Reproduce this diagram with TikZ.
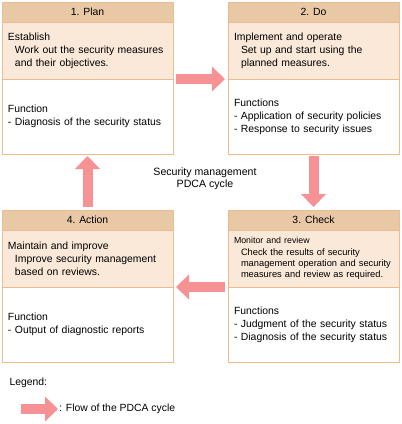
\documentclass[tikz,border=0pt]{standalone}
\usepackage{fontspec}
\setmainfont{Liberation Sans}
\usetikzlibrary{arrows.meta, positioning}
\definecolor{headfill}{RGB}{233,200,166}
\definecolor{descfill}{RGB}{250,232,216}
\definecolor{boxline}{RGB}{234,188,144}
\definecolor{flowpink}{RGB}{247,146,148}
\tikzset{
  head/.style={draw=boxline, fill=headfill, outer sep=0pt, inner sep=0pt, minimum width=171pt, minimum height=20pt},
  desc/.style={draw=boxline, fill=descfill, outer sep=0pt, inner xsep=6pt, inner ysep=0pt, minimum height=57pt, text width=159pt, align=left, font=\fontsize{10.4}{13}\selectfont},
  func/.style={draw=boxline, fill=white, outer sep=0pt, inner xsep=6pt, inner ysep=0pt, minimum height=75pt, text width=159pt, align=left, font=\fontsize{10.4}{13}\selectfont},
  flow/.style={line width=10pt, flowpink, -{Triangle[length=13pt, width=25pt, line width=0pt]}},
  note/.style={align=center, font=\fontsize{10.6}{12}\selectfont},
  every node/.style={font=\fontsize{10.4}{12}\selectfont}
}
\newcommand{\ind}{\hspace*{7pt}}

\begin{document}
\begin{tikzpicture}[x=1pt, y=-1pt]
    \useasboundingbox (0,0) rectangle (402,424);
    % the four stages
    \node[head] (plan) at (87.5,12) {1. Plan};
    \node[desc, below=0pt of plan] (plandesc) {Establish\\\ind Work out the security measures\\\ind and their objectives.};
    \node[func, below=0pt of plandesc] (planfunc) {Function\\- Diagnosis of the security status};

    \node[head] (do) at (313.5,12) {2. Do};
    \node[desc, below=0pt of do] (dodesc) {Implement and operate\\\ind Set up and start using the\\\ind planned measures.};
    \node[func, below=0pt of dodesc] (dofunc) {Functions\\- Application of security policies\\- Response to security issues};

    \node[head] (check) at (313.5,220) {3. Check};
    \node[desc, below=0pt of check, font=\fontsize{9.3}{11.3}\selectfont] (checkdesc) {{\fontsize{8.8}{11.3}\selectfont Monitor and review}\\\ind Check the results of security\\\ind management operation and security\\\ind measures and review as required.};
    \node[func, below=0pt of checkdesc] (checkfunc) {Functions\\- Judgment of the security status\\- Diagnosis of the security status};

    \node[head] (act) at (87.5,220) {4. Action};
    \node[desc, below=0pt of act] (actdesc) {Maintain and improve\\\ind Improve security management\\\ind based on reviews.};
    \node[func, below=0pt of actdesc] (actfunc) {Function\\- Output of diagnostic reports};

    \node[note] (cycle) at (205,179) {Security management\\PDCA cycle};

    % the cycle
    \draw[flow, shorten <=3pt, shorten >=3pt] (plandesc.south east) -- (dodesc.south west);
    \draw[flow, shorten <=2pt, shorten >=3pt] (dofunc.south) -- (check.north);
    \draw[flow, shorten <=3pt, shorten >=3pt] (checkdesc.south west) -- (actdesc.south east);
    \draw[flow, shorten <=3pt, shorten >=2pt] (act.north) -- (planfunc.south);

    % legend
    \node[anchor=west] (legend) at (6,383) {Legend:};
    \coordinate (legstart) at (21,409);
    \node[anchor=west, inner sep=1pt] (legtxt) at (58,409) {: Flow of the PDCA cycle};
    \draw[flow] (legstart) -- (legtxt.west);
\end{tikzpicture}
\end{document}
